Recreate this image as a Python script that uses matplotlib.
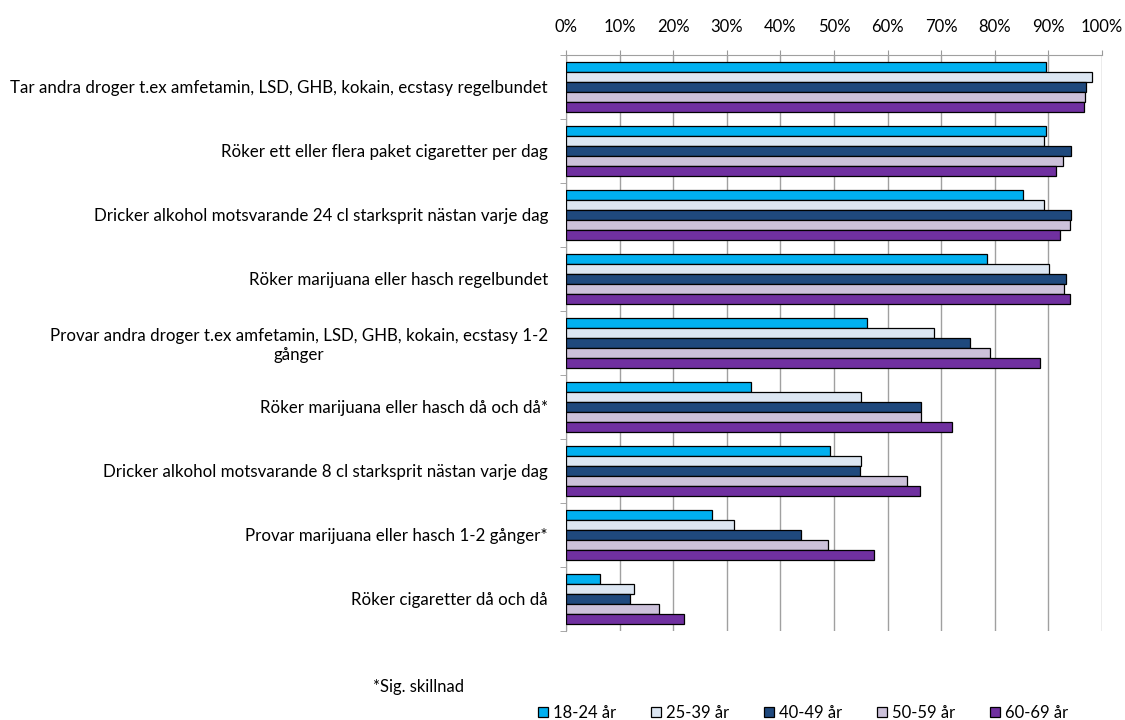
import matplotlib.pyplot as plt
import numpy as np

plt.rcParams['font.family'] = ['Lato', 'DejaVu Sans']

# Categories (top to bottom as shown)
categories = [
    'Tar andra droger t.ex amfetamin, LSD, GHB, kokain, ecstasy regelbundet',
    'Röker ett eller flera paket cigaretter per dag',
    'Dricker alkohol motsvarande 24 cl starksprit nästan varje dag',
    'Röker marijuana eller hasch regelbundet',
    'Provar andra droger t.ex amfetamin, LSD, GHB, kokain, ecstasy 1-2\ngånger',
    'Röker marijuana eller hasch då och då*',
    'Dricker alkohol motsvarande 8 cl starksprit nästan varje dag',
    'Provar marijuana eller hasch 1-2 gånger*',
    'Röker cigaretter då och då',
]

series_names = ['18-24 år', '25-39 år', '40-49 år', '50-59 år', '60-69 år']
age_18_24 = [89.6, 89.6, 85.2, 78.5, 56.1, 34.5, 49.2, 27.3, 6.3]
age_25_39 = [98.2, 89.1, 89.1, 90.1, 68.7, 55.1, 55.1, 31.3, 12.7]
age_40_49 = [97.1, 94.3, 94.3, 93.3, 75.3, 66.3, 54.8, 43.8, 11.9]
age_50_59 = [96.9, 92.7, 94.1, 93.0, 79.1, 66.3, 63.7, 48.9, 17.3]
age_60_69 = [96.7, 91.5, 92.1, 94.1, 88.5, 72.0, 66.1, 57.4, 22.0]
colors = ['#00B0F0', '#DCE6F2', '#1F497D', '#CCC1DA', '#7030A0']

series = [age_18_24, age_25_39, age_40_49, age_50_59, age_60_69]

fig = plt.figure(figsize=(11.25, 7.2), dpi=100)
ax = fig.add_axes([566 / 1125, 1 - 631 / 720, 536 / 1125, 576 / 720])

n = len(categories)
y = np.arange(n)
bar_h = 0.156
for i, (vals, name, c) in enumerate(zip(series, series_names, colors)):
    offs = (i - 2) * bar_h
    ax.barh(y + offs, vals, height=bar_h, color=c, edgecolor='black',
            linewidth=0.9, label=name, zorder=3)

ax.set_xlim(0, 100)
ax.set_ylim(n - 0.5, -0.5)
ax.xaxis.tick_top()
ax.set_xticks(np.arange(0, 101, 10))
ax.set_xticklabels([f'{v}%' for v in range(0, 101, 10)], fontsize=12)
ax.tick_params(axis='x', length=3.5, color='#999999', pad=11)
ax.grid(axis='x', color='#A0A0A0', linewidth=1, zorder=0)

ax.set_yticks(y)
ax.set_yticklabels(categories, fontsize=12.2, multialignment='center')
ax.tick_params(axis='y', length=0, pad=13)
ax.set_yticks(np.arange(-0.5, n, 1), minor=True)
ax.tick_params(axis='y', which='minor', length=4, color='#999999')

for side in ['right', 'bottom']:
    ax.spines[side].set_visible(False)
ax.spines['top'].set_color('#A0A0A0')
ax.spines['left'].set_color('#A0A0A0')

fig.text(373 / 1125, 1 - 687 / 720, '*Sig. skillnad', fontsize=12, va='center')

fig.legend(loc='center', bbox_to_anchor=(803 / 1125, 1 - 713 / 720), ncol=5,
           frameon=False, fontsize=12, handlelength=0.6, handleheight=0.6,
           columnspacing=2.1, handletextpad=0.3)

plt.savefig('out.png', dpi=100)
